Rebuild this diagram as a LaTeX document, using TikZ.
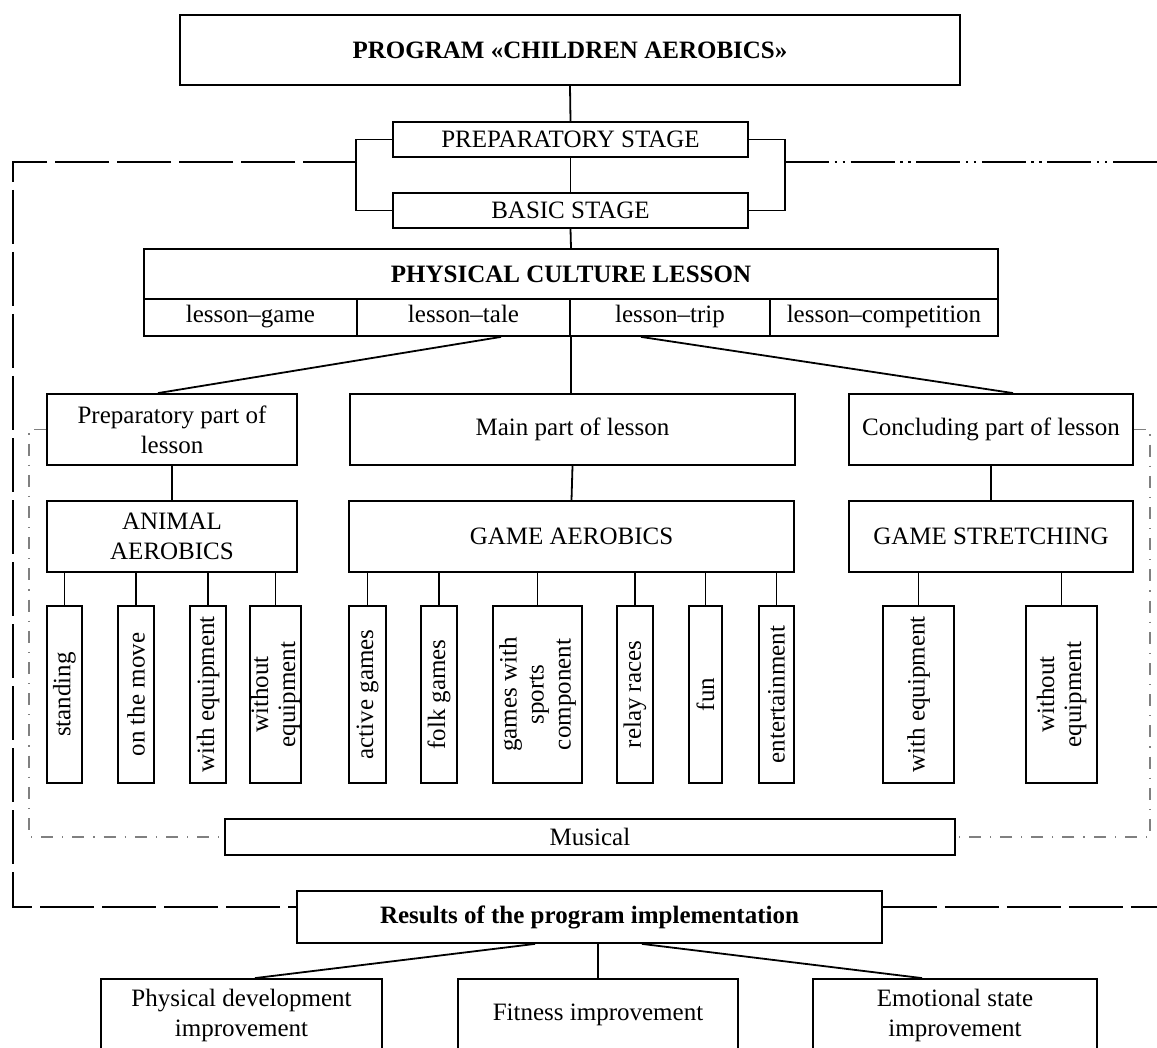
\documentclass[tikz,border=0pt]{standalone}
\usepackage{fontspec}
\setmainfont{Liberation Serif}
\usetikzlibrary{calc}

\tikzset{
  box/.style={draw, line width=0.9pt, inner sep=0pt, align=center},
  leaf/.style={box, rotate=90, minimum width=88.5pt, font=\fontsize{12.5}{13.5}\selectfont},
  kind/.style={box, minimum height=18.5pt, text height=1.6ex, text depth=0.45ex},
  link/.style={line width=0.9pt},
  outer/.style={line width=1pt, dash pattern=on 27pt off 4pt},
  outerdd/.style={line width=1pt, dash pattern=on 22pt off 2.8pt on 1.2pt off 2.8pt on 1.2pt off 2.8pt},
  musline/.style={gray, line width=0.7pt, dash pattern=on 6pt off 4.5pt on 0.6pt off 4.5pt}
}

\begin{document}
\begin{tikzpicture}[x=0.5pt, y=-0.5pt, font=\fontsize{12.5}{15}\selectfont]
\useasboundingbox (0,0) rectangle (1157,1048);
\clip (0,0) rectangle (1157,1048);

% program and stages
\node[box, minimum width=390pt, minimum height=35pt, font=\fontsize{12.5}{15}\selectfont\bfseries] (prog) at (570,50) {PROGRAM «CHILDREN AEROBICS»};
\node[box, minimum width=177.5pt, minimum height=17.5pt] (prepst) at (570.5,139.5) {PREPARATORY STAGE};
\node[box, minimum width=177.5pt, minimum height=17.5pt] (basic) at (570.5,210.5) {BASIC STAGE};

\draw[link] (prog.south) -- (prepst.north);
\draw[link] (prepst.south) -- (basic.north);
\draw[link] (prepst.west) -- ++(-36,0) |- (basic.west);
\draw[link] (prepst.east) -- ++(36,0) |- (basic.east);

\coordinate (bl) at (357,162);
\coordinate (br) at (785,162);
\draw[outer] (bl) -- (13,162) -- (13,907) -- (589.5,907);
\draw[outerdd] (br) -- (1160,162);

% lesson
\node[box, minimum width=427pt, minimum height=25pt, font=\fontsize{12.5}{15}\selectfont\bfseries] (pcl) at (571,274) {PHYSICAL CULTURE LESSON};
\draw[link] (basic.south) -- (pcl.north);

\node[kind, minimum width=106.5pt] (lgame) at (250.5,317.5) {lesson--game};
\node[kind, minimum width=106.5pt] (ltale) at (463.5,317.5) {lesson--tale};
\node[kind, minimum width=100pt] (ltrip) at (670,317.5) {lesson--trip};
\node[kind, minimum width=114pt] (lcomp) at (884,317.5) {lesson--competition};

% parts of lesson
\node[box, minimum width=125pt, minimum height=35.5pt] (prep) at (172,429.5) {Preparatory part of\\lesson};
\node[box, minimum width=222.5pt, minimum height=35.5pt] (mainp) at (572.5,429.5) {Main part of lesson};
\node[box, minimum width=142pt, minimum height=35.5pt] (concl) at (991,429.5) {Concluding part of lesson};

\draw[link] ($(ltale.south)+(37.5,0)$) -- ($(prep.north)+(-14,0)$);
\draw[link] (ltale.south east) -- (ltale.south east |- mainp.north);
\draw[link] ($(ltrip.south)+(-29,0)$) -- ($(concl.north)+(22,0)$);

\node[box, minimum width=125pt, minimum height=35.5pt] (animal) at (172,536.5) {ANIMAL\\AEROBICS};
\node[box, minimum width=222.5pt, minimum height=35.5pt] (gameaer) at (571.5,536.5) {GAME AEROBICS};
\node[box, minimum width=142pt, minimum height=35.5pt] (stretch) at (991,536.5) {GAME STRETCHING};

\draw[link] (prep.south) -- (animal.north);
\draw[link] (mainp.south) -- (gameaer.north);
\draw[link] (concl.south) -- (stretch.north);

% kinds of exercises
\foreach \nm/\xc/\w/\txt/\up in {
  stand/64.5/35/standing/animal,
  move/136/36/on the move/animal,
  withA/208/36/with equipment/animal,
  woutA/275.5/51/{without\\equipment}/animal,
  active/367.5/37/active games/gameaer,
  folk/439/36/folk games/gameaer,
  sport/537.5/89/{games with\\sports\\component}/gameaer,
  relay/635/36/relay races/gameaer,
  fun/705.5/33/fun/gameaer,
  entert/776.5/35/entertainment/gameaer,
  withS/918.5/71/with equipment/stretch,
  woutS/1061.5/71/{without\\equipment}/stretch}
{
  \node[leaf, minimum height=\w*0.5pt] (\nm) at (\xc,694.5) {\txt};
  \draw[link] (\nm.east) -- (\nm.east |- \up.south);
}

% musical accompaniment
\node[box, minimum width=365pt, minimum height=18pt] (music) at (590,837) {Musical};
\draw[musline] (prep.west) -- (29,429.5) -- (29,837) -- (music.west);
\draw[musline] (concl.east) -- (1150,429.5) -- (1150,837) -- (music.east);

% results
\node[box, fill=white, minimum width=292.5pt, minimum height=26pt, font=\fontsize{12.5}{15}\selectfont\bfseries] (res) at (589.5,917) {Results of the program implementation};
\draw[outer] (res.east |- 0,907) -- (1160,907);

\node[box, minimum width=140.5pt, minimum height=36pt] (phys) at (241.5,1015) {Physical development\\improvement};
\node[box, minimum width=140pt, minimum height=36pt] (fit) at (598,1015) {Fitness improvement};
\node[box, minimum width=142pt, minimum height=36pt] (emo) at (955,1015) {Emotional state\\improvement};

\draw[link] ($(res.south)+(-54.5,0)$) -- ($(phys.north)+(13.5,0)$);
\draw[link] (fit.north |- res.south) -- (fit.north);
\draw[link] ($(res.south)+(52.5,0)$) -- ($(emo.north)+(-33,0)$);

\end{tikzpicture}
\end{document}
